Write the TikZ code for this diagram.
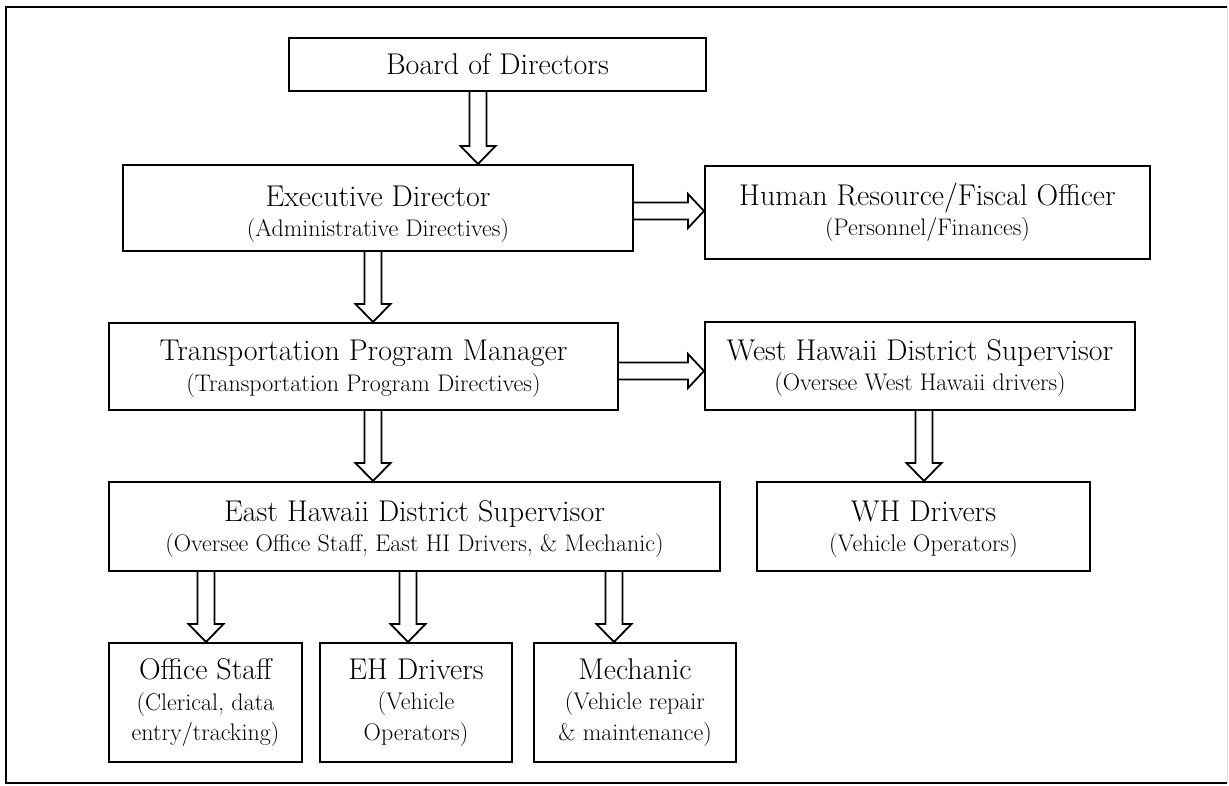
\documentclass[tikz,border=0pt]{standalone}
\usetikzlibrary{calc}
\newcommand{\subt}[1]{{\fontsize{24}{30}\selectfont #1}}
\newcommand{\tstrut}[1]{\rule{0pt}{#1pt}}
\tikzset{
  box/.style={draw, line width=2pt, rectangle, inner sep=0pt, align=center,
    text=black, font=\fontsize{30}{30.5}\selectfont},
  barrow/.style={draw, line width=1.8pt, line join=miter},
  frameline/.style={line width=1.8pt},
}
% vertical block arrow: x, source node, target node
\newcommand{\varrow}[3]{%
  \draw[barrow] let \p1=(#2.south), \p2=(#3.north) in
    ({#1pt-8.5pt},\y1) -- ({#1pt-8.5pt},{\y2+18pt}) -- ({#1pt-17.5pt},{\y2+18pt})
    -- ({#1pt},\y2) -- ({#1pt+17.5pt},{\y2+18pt}) -- ({#1pt+8.5pt},{\y2+18pt})
    -- ({#1pt+8.5pt},\y1);}
% horizontal block arrow: y, source node, target node
\newcommand{\harrow}[3]{%
  \draw[barrow] let \p1=(#2.east), \p2=(#3.west) in
    (\x1,{-#1pt-8.5pt}) -- ({\x2-16pt},{-#1pt-8.5pt}) -- ({\x2-16pt},{-#1pt-17pt})
    -- (\x2,{-#1pt}) -- ({\x2-16pt},{-#1pt+17pt}) -- ({\x2-16pt},{-#1pt+8.5pt})
    -- (\x1,{-#1pt+8.5pt});}
\begin{document}
\begin{tikzpicture}[x=1pt,y=1pt]
\useasboundingbox (0,0) rectangle (1229,-785);
% outer frame
\draw[frameline] (1227,-7) -- (6,-7) -- (6,-783) -- (1227,-783);
\draw[line width=1pt, black!12] (1227,-7) -- (1227,-783);

\node[box, minimum width=417pt, minimum height=53pt] (board) at (497.5,-64.5) {Board of Directors};
\node[box, minimum width=510pt, minimum height=86pt] (exec) at (378,-208)
  {\tstrut{33}Executive Director\\\subt{(Administrative Directives)}};
\node[box, minimum width=445pt, minimum height=93pt] (hr) at (927.5,-212.5)
  {Human Resource/Fiscal Officer\\\subt{(Personnel/Finances)}};
\node[box, minimum width=509pt, minimum height=87pt] (tpm) at (363.5,-366.5)
  {\tstrut{25}Transportation Program Manager\\\subt{(Transportation Program Directives)}};
\node[box, minimum width=430pt, minimum height=88pt] (west) at (920,-366)
  {\tstrut{25}West Hawaii District Supervisor\\\subt{(Oversee West Hawaii drivers)}};
\node[box, minimum width=611pt, minimum height=89pt] (east) at (414.5,-526.5)
  {\tstrut{26}East Hawaii District Supervisor\\\subt{(Oversee Office Staff, East HI Drivers, \& Mechanic)}};
\node[box, minimum width=333pt, minimum height=89pt] (wh) at (923.5,-526.5)
  {\tstrut{26}WH Drivers\\\subt{(Vehicle Operators)}};
\node[box, minimum width=193pt, minimum height=119pt] (office) at (205.5,-702.5)
  {Office Staff\\\subt{(Clerical, data}\\\subt{entry/tracking)}};
\node[box, minimum width=192pt, minimum height=119pt] (ehd) at (416,-702.5)
  {EH Drivers\\\subt{(Vehicle}\\\subt{Operators)}};
\node[box, minimum width=202pt, minimum height=119pt] (mech) at (635,-702.5)
  {Mechanic\\\subt{(Vehicle repair}\\\subt{\& maintenance)}};

\varrow{478}{board}{exec}
\varrow{373}{exec}{tpm}
\varrow{373}{tpm}{east}
\varrow{924}{west}{wh}
\varrow{206}{east}{office}
\varrow{408}{east}{ehd}
\varrow{614}{east}{mech}
\harrow{211}{exec}{hr}
\harrow{371}{tpm}{west}
\end{tikzpicture}
\end{document}
